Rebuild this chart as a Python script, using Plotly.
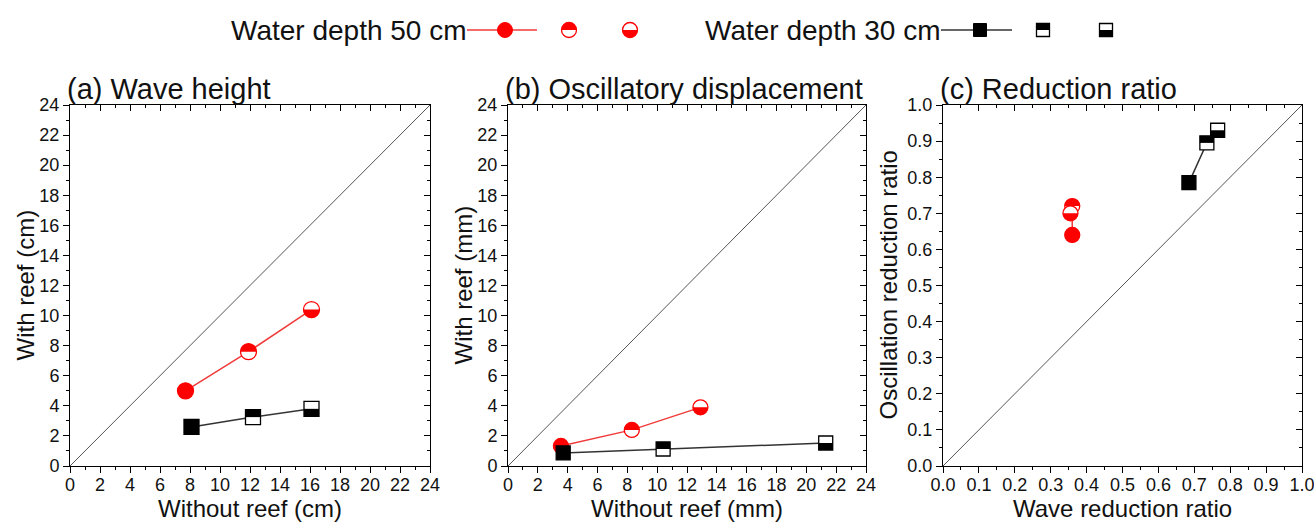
import numpy as np
import plotly.graph_objects as go

# ---------------- data ----------------
wave_without_50 = [7.7, 11.9, 16.1]
wave_with_50 = [5.0, 7.6, 10.4]
wave_without_30 = [8.1, 12.2, 16.1]
wave_with_30 = [2.6, 3.25, 3.8]

osc_without_50 = [3.55, 8.3, 12.9]
osc_with_50 = [1.33, 2.4, 3.9]
osc_without_30 = [3.7, 10.4, 21.3]
osc_with_30 = [0.87, 1.13, 1.53]

wave_ratio_50 = [0.36, 0.36, 0.355]
osc_ratio_50 = [0.64, 0.72, 0.70]
wave_ratio_30 = [0.685, 0.735, 0.765]
osc_ratio_30 = [0.785, 0.895, 0.93]

fill_styles = ["full", "top", "bottom"]   # full / upper half filled / lower half filled

panel_titles = ["(a) Wave height", "(b) Oscillatory displacement", "(c) Reduction ratio"]
x_titles = ["Without reef (cm)", "Without reef (mm)", "Wave reduction ratio"]
y_titles = ["With reef (cm)", "With reef (mm)", "Oscillation reduction ratio"]
legend_labels = ["Water depth 50 cm", "Water depth 30 cm"]

RED = "#ff0000"
RED_LINE = "#f03a3a"
BLACK = "#000000"
FONT = "Arial, Liberation Sans, sans-serif"
TXT = "#111111"

W, H = 1314, 522
ML, MR, MT, MB = 70, 12, 105, 56
PW = W - ML - MR
PH = H - MT - MB


def px2x(px):
    return (px - ML) / PW


def py2y(py):
    return (H - MB - py) / PH


def half_circle_path(r, half, n=28):
    a = np.linspace(0, np.pi, n) if half == "top" else np.linspace(np.pi, 2 * np.pi, n)
    pts = [(r * np.cos(t), r * np.sin(t)) for t in a]
    return "M " + " L ".join(f"{x:.2f},{y:.2f}" for x, y in pts) + " Z"


def half_square_path(s, half):
    h = s / 2
    if half == "top":
        return f"M {-h},0 L {h},0 L {h},{h} L {-h},{h} Z"
    return f"M {-h},0 L {h},0 L {h},{-h} L {-h},{-h} Z"


fig = go.Figure()
shapes = []
annotations = []

panels = [
    (wave_without_50, wave_with_50, wave_without_30, wave_with_30, [0, 24], 2, 1, None, 16, 15),
    (osc_without_50, osc_with_50, osc_without_30, osc_with_30, [0, 24], 2, 1, None, 15, 14),
    (wave_ratio_50, osc_ratio_50, wave_ratio_30, osc_ratio_30, [0, 1], 0.1, 0.05, ".1f", 15, 14),
]
domains = [[0.0, px2x(430)], [px2x(508), px2x(866)], [px2x(943), 1.0]]
ytitle_px = [25, 463, 888]
xtitle_py = 508

for i, (x50, y50, x30, y30, rng, dt, mdt, fmt, csize, ssize) in enumerate(panels):
    k = i + 1
    xa, ya = f"x{k}" if k > 1 else "x", f"y{k}" if k > 1 else "y"
    # diagonal reference line
    shapes.append(dict(type="line", xref=f"{xa} domain", yref=f"{ya} domain",
                       x0=0, y0=0, x1=1, y1=1, line=dict(color="#555555", width=1), layer="below"))
    for xs, ys, col, lcol, sym, size in [(x50, y50, RED, RED_LINE, "circle", csize),
                                          (x30, y30, BLACK, "#333333", "square", ssize)]:
        fills = [col if f == "full" else "white" for f in fill_styles]
        fig.add_trace(go.Scatter(
            x=xs, y=ys, mode="lines+markers", xaxis=xa, yaxis=ya, showlegend=False,
            line=dict(color=lcol, width=1.5),
            marker=dict(symbol=sym, size=size, color=fills, line=dict(color=col, width=1.3)),
            cliponaxis=False))
        for xv, yv, f in zip(xs, ys, fill_styles):
            if f == "full":
                continue
            path = half_circle_path(size / 2, f) if sym == "circle" else half_square_path(size, f)
            shapes.append(dict(type="path", xref=xa, yref=ya, xsizemode="pixel", ysizemode="pixel",
                               xanchor=xv, yanchor=yv, path=path, fillcolor=col,
                               line=dict(width=0), layer="above"))

    axis_common = dict(range=rng, dtick=dt, tick0=0, showgrid=False, zeroline=False, automargin=False)
    fig.update_layout(**{
        ("xaxis" if k == 1 else f"xaxis{k}"): dict(
            domain=domains[i], anchor=ya, ticks="outside", ticklen=6, tickwidth=1, tickcolor="black",
            minor=dict(ticks="outside", ticklen=3, dtick=mdt, tickcolor="black", tickwidth=1),
            showline=True, linecolor="black", linewidth=1, mirror=True, tickformat=fmt,
            tickfont=dict(size=18, family=FONT, color=TXT), ticklabeloverflow="allow",
            ticklabelstandoff=-4,
            **axis_common),
        ("yaxis" if k == 1 else f"yaxis{k}"): dict(
            domain=[0, 1], anchor=xa, ticks="outside", ticklen=6, tickwidth=1, tickcolor="black",
            minor=dict(ticks="outside", ticklen=3, dtick=mdt, tickcolor="black", tickwidth=1),
            showline=True, linecolor="black", linewidth=1, mirror=True, tickformat=fmt,
            tickfont=dict(size=18, family=FONT, color=TXT), ticklabeloverflow="allow",
            **axis_common),
    })
    # overlay axes for inward ticks on top / right
    kx, ky = k + 3, k + 3
    fig.update_layout(**{
        f"xaxis{kx}": dict(overlaying=xa, side="top", anchor=ya, ticks="inside", ticklen=6,
                           tickcolor="black", showticklabels=False,
                           minor=dict(ticks="inside", ticklen=3, dtick=mdt, tickcolor="black"),
                           **axis_common),
        f"yaxis{ky}": dict(overlaying=ya, side="right", anchor=xa, ticks="inside", ticklen=6,
                           tickcolor="black", showticklabels=False,
                           minor=dict(ticks="inside", ticklen=3, dtick=mdt, tickcolor="black"),
                           **axis_common),
    })
    fig.add_trace(go.Scatter(x=[None], y=[None], xaxis=f"x{kx}", yaxis=f"y{ky}",
                             showlegend=False, hoverinfo="skip"))
    # panel title
    annotations.append(dict(text=panel_titles[i], xref=f"{xa} domain", yref=f"{ya} domain",
                            x=0, y=1, xanchor="left", yanchor="bottom", xshift=-5, yshift=-2,
                            showarrow=False, font=dict(size=29, family=FONT, color=TXT)))
    # axis titles
    annotations.append(dict(text=x_titles[i], xref=f"{xa} domain", yref="paper",
                            x=0.5, y=py2y(xtitle_py), xanchor="center", yanchor="middle",
                            showarrow=False, font=dict(size=24, family=FONT, color=TXT)))
    annotations.append(dict(text=y_titles[i], xref="paper", yref=f"{ya} domain",
                            x=px2x(ytitle_px[i]), y=0.5, xanchor="center", yanchor="middle",
                            textangle=-90, showarrow=False,
                            font=dict(size=24, family=FONT, color=TXT)))

# ---------------- custom legend ----------------
leg_y = py2y(30)
legend_items = [
    (legend_labels[0], 469, 467, 537, 505, [569, 630], "circle", RED, RED_LINE, 15),
    (legend_labels[1], 943, 941, 1012, 980, [1043, 1106], "square", BLACK, "#333333", 13),
]
for label, tx, lx0, lx1, mx, hx, sym, col, lcol, size in legend_items:
    annotations.append(dict(text=label, xref="paper", yref="paper", x=px2x(tx), y=leg_y,
                            xanchor="right", yanchor="middle", showarrow=False,
                            font=dict(size=28, family=FONT, color=TXT)))
    shapes.append(dict(type="line", xref="paper", yref="paper", x0=px2x(lx0), x1=px2x(lx1),
                       y0=leg_y, y1=leg_y, line=dict(color=lcol, width=1.5)))
    r = size / 2
    stype = "circle" if sym == "circle" else "rect"
    shapes.append(dict(type=stype, xref="paper", yref="paper", xsizemode="pixel", ysizemode="pixel",
                       xanchor=px2x(mx), yanchor=leg_y, x0=-r, x1=r, y0=-r, y1=r,
                       fillcolor=col, line=dict(color=col, width=1)))
    for hpx, f in zip(hx, fill_styles[1:]):
        shapes.append(dict(type=stype, xref="paper", yref="paper", xsizemode="pixel", ysizemode="pixel",
                           xanchor=px2x(hpx), yanchor=leg_y, x0=-r, x1=r, y0=-r, y1=r,
                           fillcolor="white", line=dict(color=col, width=1.3)))
        path = half_circle_path(r, f) if sym == "circle" else half_square_path(size, f)
        shapes.append(dict(type="path", xref="paper", yref="paper", xsizemode="pixel", ysizemode="pixel",
                           xanchor=px2x(hpx), yanchor=leg_y, path=path, fillcolor=col, line=dict(width=0)))

fig.update_layout(
    width=W, height=H, autosize=False,
    margin=dict(l=ML, r=MR, t=MT, b=MB, autoexpand=False),
    paper_bgcolor="white", plot_bgcolor="white",
    showlegend=False,
    shapes=shapes, annotations=annotations,
    font=dict(family=FONT, color=TXT),
)

fig.write_html("out.html")
